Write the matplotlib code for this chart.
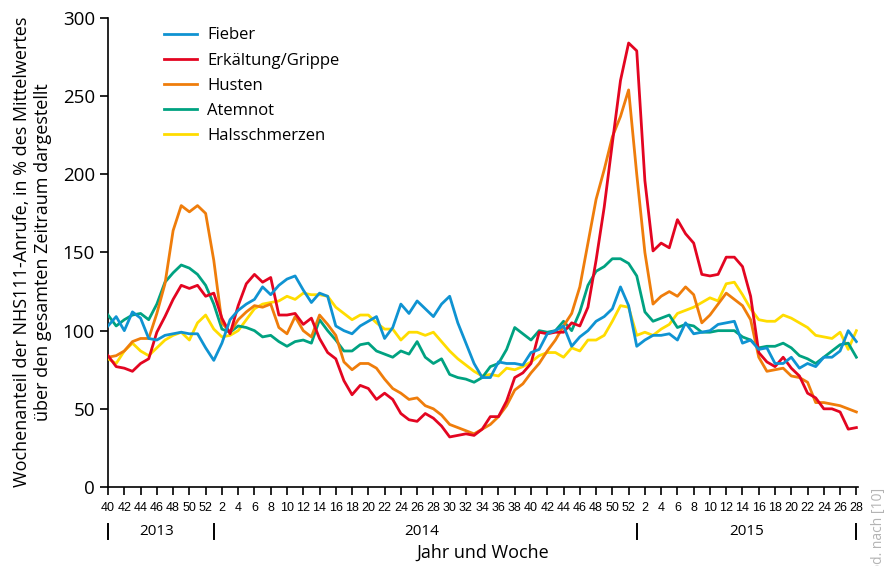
import numpy as np
import matplotlib.pyplot as plt
from matplotlib import transforms

plt.rcParams['font.family'] = ['Open Sans', 'DejaVu Sans']

# Kalenderwochen 2013/40 bis 2015/28
jahre = [2013] * 13 + [2014] * 52 + [2015] * 28
wochen = list(range(40, 53)) + list(range(1, 53)) + list(range(1, 29))

# Wochenanteil in % des Mittelwertes
fieber = [103, 109, 100, 112, 108, 95, 94, 97, 98, 99, 98, 98, 89, 81, 92, 107, 113, 117,
          120, 128, 123, 129, 133, 135, 126, 118, 124, 122, 103, 100, 98, 103, 106, 109, 95,
          102, 117, 111, 119, 114, 109, 117, 122, 105, 92, 79, 70, 70, 80, 79, 79, 78, 86,
          88, 98, 100, 103, 90, 96, 100, 106, 109, 114, 128, 116, 90, 94, 97, 97, 98,
          94, 105, 98, 99, 100, 104, 105, 106, 92, 94, 88, 89, 79, 79, 83, 76, 79, 77, 83,
          83, 87, 100, 93]
erkaeltung = [84, 77, 76, 74, 79, 82, 99, 109, 120, 129, 127, 129, 122, 124, 108, 98, 116, 130,
              136, 131, 134, 110, 110, 111, 104, 108, 95, 86, 82, 68, 59, 65, 63, 56, 60,
              56, 47, 43, 42, 47, 44, 39, 32, 33, 34, 33, 37, 45, 45, 55, 70, 73, 79,
              99, 98, 99, 99, 105, 103, 115, 145, 179, 220, 260, 284, 279, 196, 151, 156, 153,
              171, 162, 156, 136, 135, 136, 147, 147, 141, 122, 86, 80, 77, 83, 76, 71, 60, 57,
              50, 50, 48, 37, 38]
husten = [83, 84, 87, 93, 95, 95, 111, 130, 164, 180, 176, 180, 175, 145, 105, 99, 107, 112,
          116, 115, 117, 102, 98, 109, 100, 96, 110, 104, 97, 80, 75, 79, 79, 76, 69,
          63, 60, 56, 57, 52, 50, 46, 40, 38, 36, 34, 37, 40, 45, 52, 62, 66, 73,
          79, 87, 94, 103, 111, 128, 156, 184, 203, 224, 237, 254, 200, 150, 117, 122, 125,
          122, 128, 123, 105, 110, 117, 124, 120, 116, 107, 83, 74, 75, 76, 71, 70, 67, 54,
          54, 53, 52, 50, 48]
atemnot = [110, 103, 107, 110, 111, 107, 117, 131, 137, 142, 140, 136, 129, 117, 101, 99, 103, 102,
           100, 96, 97, 93, 90, 93, 94, 92, 107, 100, 94, 87, 87, 91, 92, 87, 85,
           83, 87, 85, 93, 83, 79, 82, 72, 70, 69, 67, 70, 77, 79, 88, 102, 98, 94,
           100, 99, 100, 106, 100, 112, 129, 138, 141, 146, 146, 143, 135, 112, 106, 108, 110,
           102, 104, 103, 99, 99, 100, 100, 100, 96, 94, 89, 90, 90, 92, 89, 84, 82, 79,
           83, 87, 91, 92, 83]
hals = [82, 79, 87, 92, 87, 84, 89, 94, 97, 99, 94, 105, 110, 101, 96, 97, 100, 107,
        114, 117, 118, 119, 122, 120, 124, 123, 123, 122, 115, 111, 107, 110, 110, 105, 101,
        101, 94, 99, 99, 97, 99, 93, 87, 82, 78, 74, 71, 72, 71, 76, 75, 77, 80,
        84, 86, 86, 83, 89, 87, 94, 94, 97, 106, 116, 115, 97, 99, 97, 101, 104,
        111, 113, 115, 118, 121, 119, 130, 131, 123, 114, 107, 106, 106, 110, 108, 105, 102, 97,
        96, 95, 99, 88, 100]

serien = [
    ("Fieber", fieber, "#0f93d2"),
    ("Erkältung/Grippe", erkaeltung, "#e30521"),
    ("Husten", husten, "#ef7d0b"),
    ("Atemnot", atemnot, "#00a281"),
    ("Halsschmerzen", hals, "#ffdc00"),
]

x = np.arange(len(wochen))

fig = plt.figure(figsize=(8.87, 5.66), dpi=100)
ax = fig.add_axes([0.1218, 0.1396, 0.8455, 0.8286])

for i, (name, werte, farbe) in enumerate(serien):
    ax.plot(x, werte, color=farbe, lw=2.0, label=name, zorder=10 - i,
            solid_joinstyle="round")

ax.set_xlim(0, 92.2)
ax.set_ylim(0, 300)
ax.set_yticks(range(0, 301, 50))
ax.tick_params(axis="y", labelsize=13.5, length=6, width=1.2, direction="out")
ax.tick_params(axis="x", length=6, width=1.2, direction="out", pad=5)

gerade = [i for i, w in enumerate(wochen) if w % 2 == 0]
ax.set_xticks(gerade)
ax.set_xticklabels([str(wochen[i]) for i in gerade],
                   family=["Liberation Sans", "DejaVu Sans"], fontsize=9)

for s in ["top", "right"]:
    ax.spines[s].set_visible(False)
for s in ["left", "bottom"]:
    ax.spines[s].set_linewidth(1.2)

# Jahreszeile unter den Wochen
trans = transforms.blended_transform_factory(ax.transData, ax.transAxes)
grenzen = [0] + [i for i, w in enumerate(wochen) if w == 1 and i > 0] + [len(wochen) - 1]
for g in grenzen:
    ax.plot([g, g], [-0.079, -0.11], transform=trans, clip_on=False,
            color="black", lw=1.4)
for j in sorted(set(jahre)):
    idx = [i for i, y in enumerate(jahre) if y == j]
    ax.text((idx[0] + idx[-1]) / 2, -0.094, str(j), transform=trans,
            ha="center", va="center", fontsize=11)

fig.text(483 / 887, 1 - 553 / 566, "Jahr und Woche", ha="center", va="center",
         fontsize=13)
fig.text(0.037, 0.555,
         "Wochenanteil der NHS111-Anrufe, in % des Mittelwertes\n"
         "über den gesamten Zeitraum dargestellt",
         rotation=90, ha="center", va="center", fontsize=13,
         multialignment="center", linespacing=1.2)

fig.text(0.99, 1 - 488 / 566, "mod. nach [10]", rotation=90, ha="center", va="top",
         fontsize=10, color="#b4b4b4")

ax.legend(loc="upper left", bbox_to_anchor=(0.055, 1.012), frameon=False,
          fontsize=12, handlelength=1.98, handletextpad=0.6, labelspacing=0.55)

fig.savefig("out.png", dpi=100)
